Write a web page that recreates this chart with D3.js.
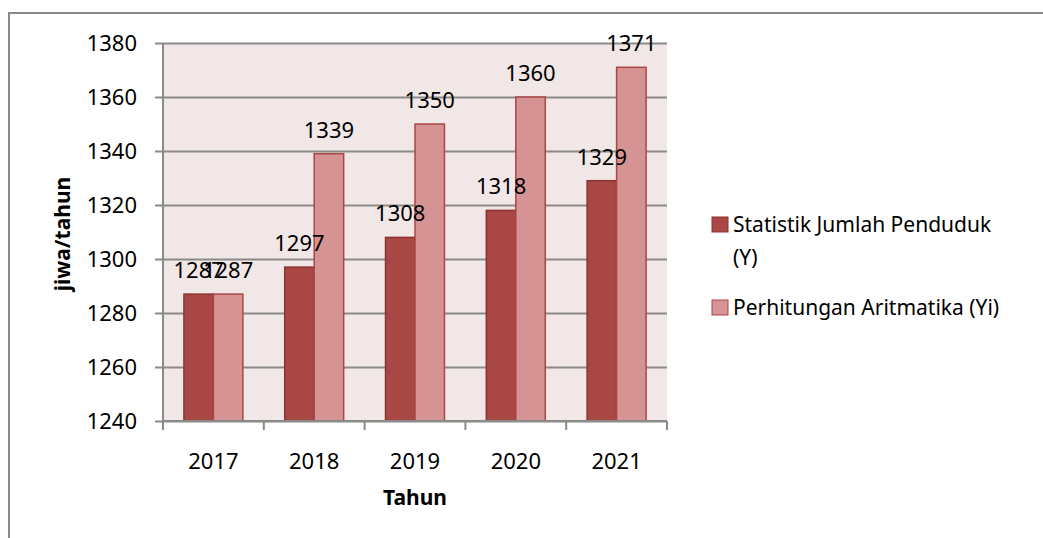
<!DOCTYPE html>
<html>
<head>
<meta charset="utf-8">
<script src="https://cdn.jsdelivr.net/npm/d3@7"></script>
<style>
  body { margin: 0; background: #fff; }
  svg { display: block; }
</style>
</head>
<body>
<div id="chart"></div>
<script>
"use strict";

const years = ["2017", "2018", "2019", "2020", "2021"];
const seriesNames = ["Statistik Jumlah Penduduk (Y)", "Perhitungan Aritmatika (Yi)"];
const statistik = [1287, 1297, 1308, 1318, 1329];
const aritmatika = [1287, 1339, 1350, 1360, 1371];
const yTicks = [1240, 1260, 1280, 1300, 1320, 1340, 1360, 1380];

const fills = ["#A94745", "#D59393"];
const strokes = ["#8C3331", "#A94745"];
const font = "'Noto Sans', 'Open Sans', sans-serif";

const W = 1043, H = 538;
const plot = { left: 163, right: 667, top: 43, bottom: 421 };

const svg = d3.select("#chart").append("svg")
  .attr("width", W)
  .attr("height", H);

// outer chart frame (runs off the right and bottom edges)
svg.append("rect")
  .attr("x", 9)
  .attr("y", 13)
  .attr("width", 1200)
  .attr("height", 700)
  .attr("fill", "#fff")
  .attr("stroke", "#8a8a8a")
  .attr("stroke-width", 2);

const x0 = d3.scaleBand()
  .domain(years)
  .range([plot.left, plot.right])
  .padding(0);

const x1 = d3.scaleBand()
  .domain([0, 1])
  .range([0, x0.bandwidth()])
  .paddingInner(0)
  .paddingOuter(0.71);

const y = d3.scaleLinear()
  .domain([1240, 1380])
  .range([plot.bottom, plot.top]);

// plot background
svg.append("rect")
  .attr("x", plot.left)
  .attr("y", plot.top)
  .attr("width", plot.right - plot.left)
  .attr("height", plot.bottom - plot.top)
  .attr("fill", "#F2E7E7");

// gridlines + y axis
const yAxis = d3.axisLeft(y)
  .tickValues(yTicks)
  .tickFormat(d3.format("d"))
  .tickSize(-(plot.right - plot.left))
  .tickPadding(0);

const gy = svg.append("g")
  .attr("transform", `translate(${plot.left},0)`)
  .call(yAxis);
gy.select(".domain").remove();
gy.selectAll(".tick line")
  .attr("x1", -8)
  .attr("stroke", "#8a8a8a")
  .attr("stroke-width", 2);
gy.selectAll(".tick text")
  .attr("x", -26)
  .attr("dy", "0.35em")
  .attr("font-family", font)
  .attr("font-size", "22px")
  .attr("fill", "#000");

svg.append("line")
  .attr("x1", plot.left).attr("x2", plot.left)
  .attr("y1", plot.top).attr("y2", plot.bottom)
  .attr("stroke", "#8a8a8a")
  .attr("stroke-width", 2);

// bars
const rows = years.map((yr, i) => ({ year: yr, values: [statistik[i], aritmatika[i]] }));

const groups = svg.append("g").selectAll("g")
  .data(rows)
  .join("g")
  .attr("transform", d => `translate(${x0(d.year)},0)`);

groups.selectAll("rect")
  .data(d => d.values.map((v, k) => ({ k: k, v: v })))
  .join("rect")
  .attr("x", d => x1(d.k))
  .attr("y", d => y(d.v))
  .attr("width", x1.bandwidth())
  .attr("height", d => y(1240) - y(d.v))
  .attr("fill", d => fills[d.k])
  .attr("stroke", d => strokes[d.k])
  .attr("stroke-width", 1.5);

// data labels (the two 2017 labels overlap, as in the original)
groups.selectAll("text")
  .data(d => d.values.map((v, k) => ({ k: k, v: v })))
  .join("text")
  .attr("x", d => x1(d.k) + x1.bandwidth() / 2)
  .attr("y", d => y(d.v) - 16)
  .attr("text-anchor", "middle")
  .attr("font-family", font)
  .attr("font-size", "22px")
  .attr("fill", "#000")
  .text(d => d.v);

// x axis
const xAxis = d3.axisBottom(x0).tickSize(0).tickPadding(0);
const gx = svg.append("g")
  .attr("transform", `translate(0,${plot.bottom})`)
  .call(xAxis);
gx.select(".domain")
  .attr("stroke", "#8a8a8a")
  .attr("stroke-width", 2)
  .attr("d", `M${plot.left},0H${plot.right}`);
gx.selectAll(".tick text")
  .attr("y", 48)
  .attr("dy", 0)
  .attr("font-family", font)
  .attr("font-size", "22px")
  .attr("fill", "#000");

// boundary ticks between categories
const edges = years.map(yr => x0(yr)).concat([plot.right]);
svg.append("g").selectAll("line")
  .data(edges)
  .join("line")
  .attr("x1", d => d).attr("x2", d => d)
  .attr("y1", plot.bottom).attr("y2", plot.bottom + 9)
  .attr("stroke", "#8a8a8a")
  .attr("stroke-width", 2);

// axis titles
svg.append("text")
  .attr("transform", "translate(70,234) rotate(-90)")
  .attr("text-anchor", "middle")
  .attr("font-family", font)
  .attr("font-weight", "bold")
  .attr("font-size", "21px")
  .attr("fill", "#000")
  .text("jiwa/tahun");

svg.append("text")
  .attr("x", (plot.left + plot.right) / 2)
  .attr("y", 505)
  .attr("text-anchor", "middle")
  .attr("font-family", font)
  .attr("font-weight", "bold")
  .attr("font-size", "21px")
  .attr("fill", "#000")
  .text("Tahun");

// legend
const legendLines = [["Statistik Jumlah Penduduk", "(Y)"], ["Perhitungan Aritmatika (Yi)"]];
const legendY = [217, 300];
const lg = svg.append("g");
seriesNames.forEach((name, k) => {
  lg.append("rect")
    .attr("x", 712)
    .attr("y", legendY[k])
    .attr("width", 16)
    .attr("height", 15)
    .attr("fill", fills[k])
    .attr("stroke", strokes[k])
    .attr("stroke-width", 1);
  const t = lg.append("text")
    .attr("x", 733)
    .attr("y", legendY[k] + 15)
    .attr("font-family", font)
    .attr("font-size", "21px")
    .attr("fill", "#000");
  legendLines[k].forEach((ln, j) => {
    t.append("tspan")
      .attr("x", 733)
      .attr("dy", j === 0 ? 0 : 33)
      .text(ln);
  });
});
</script>
</body>
</html>
